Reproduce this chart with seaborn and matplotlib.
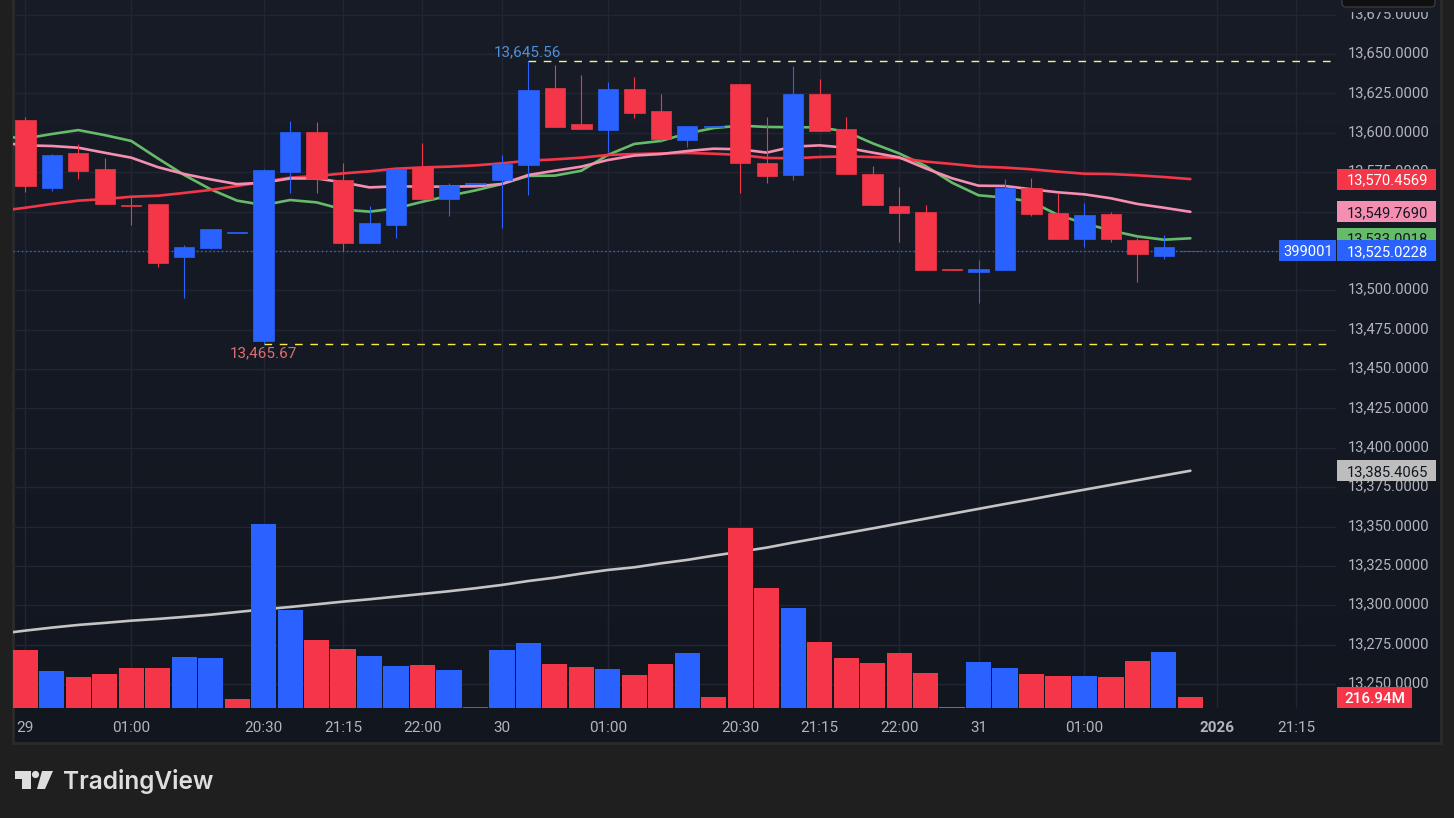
import pandas as pd
import matplotlib
matplotlib.use("Agg")
import matplotlib.pyplot as plt
import numpy as np
import seaborn as sns
from matplotlib.patches import Rectangle, Polygon, Circle, FancyBboxPatch
from matplotlib.transforms import IdentityTransform, ScaledTranslation, blended_transform_factory

# candles
opens = [13608.1, 13564.9, 13587.1, 13577.0, 13554.2, 13554.8, 13521.1, 13526.8, 13536.6, 13467.8,
         13575.1, 13600.5, 13570.0, 13530.0, 13541.4, 13578.2, 13557.9, 13567.7, 13570.0, 13579.5,
         13628.4, 13605.6, 13601.8, 13627.8, 13613.8, 13595.4, 13603.7, 13631.0, 13580.8, 13573.2,
         13624.6, 13602.4, 13573.8, 13553.5, 13549.7, 13513.5, 13511.6, 13512.9, 13564.9, 13549.0,
         13532.5, 13548.4, 13531.9, 13521.8, 13524.9]
highs = [13610.0, 13586.5, 13592.9, 13584.0, 13559.2, 13554.8, 13528.7, 13538.9, 13537.0, 13577.0,
         13607.4, 13606.8, 13580.8, 13553.5, 13577.6, 13593.5, 13568.1, 13568.1, 13585.9, 13645.56,
         13643.0, 13636.7, 13632.2, 13635.4, 13624.6, 13604.3, 13604.1, 13631.0, 13610.0, 13642.4,
         13634.1, 13610.0, 13578.9, 13565.6, 13554.1, 13513.5, 13519.2, 13570.4, 13571.2, 13561.5,
         13555.4, 13549.7, 13533.2, 13535.1, 13525.1]
lows = [13562.4, 13563.0, 13570.6, 13554.8, 13541.4, 13514.8, 13495.1, 13526.2, 13536.6, 13465.67,
        13561.8, 13561.8, 13524.9, 13530.0, 13533.2, 13557.9, 13547.1, 13567.7, 13539.5, 13560.5,
        13603.7, 13602.4, 13587.8, 13609.4, 13594.1, 13591.0, 13603.7, 13561.8, 13568.1, 13570.0,
        13601.1, 13573.8, 13554.1, 13530.6, 13512.9, 13513.1, 13492.1, 13512.9, 13547.2, 13532.5,
        13527.5, 13530.6, 13505.2, 13519.8, 13524.9]
closes = [13566.2, 13585.9, 13575.7, 13554.8, 13553.6, 13517.3, 13527.4, 13538.9, 13537.0, 13576.3,
          13600.5, 13570.6, 13530.0, 13542.7, 13577.0, 13557.9, 13566.8, 13568.1, 13580.2, 13627.2,
          13603.7, 13602.4, 13627.8, 13612.6, 13596.0, 13604.3, 13604.1, 13580.8, 13572.6, 13624.6,
          13601.1, 13573.8, 13554.1, 13549.1, 13512.9, 13513.1, 13513.5, 13564.9, 13548.4, 13532.5,
          13547.8, 13532.5, 13523.0, 13527.5, 13525.02]

# volume in millions and which way each bar is coloured
volumes = [1143, 729, 611, 670, 788, 788, 1005, 986, 177, 3627, 1932, 1340, 1163, 1025, 828, 848, 749, 20,
           1143, 1281, 867, 808, 769, 650, 867, 1084, 217, 3548, 2365, 1971, 1301, 986, 887, 1084, 690, 20,
           907, 788, 670, 631, 631, 611, 926, 1104, 216.94]
vol_sides = ["down", "up", "down", "down", "down", "down", "up", "up", "down", "up", "up", "down", "down",
             "up", "up", "down", "up", "up", "up", "up", "down", "down", "up", "down", "down", "up", "down",
             "down", "down", "up", "down", "down", "down", "down", "down", "down", "up", "up", "down", "down",
             "up", "down", "down", "up", "down"]

# moving averages, first value is the bar left of the visible range
ma_green = [13597.9, 13596.4, 13599.2, 13601.7, 13598.5, 13594.8, 13583.8, 13573.2, 13564.1, 13556.9,
            13554.1, 13557.3, 13555.8, 13551.3, 13549.9, 13552.0, 13556.2, 13560.0, 13563.4, 13567.5,
            13572.6, 13572.8, 13575.9, 13585.9, 13592.9, 13594.8, 13599.6, 13603.0, 13604.5, 13603.7,
            13603.5, 13603.5, 13600.7, 13593.3, 13586.9, 13578.9, 13568.3, 13560.3, 13558.8, 13556.2,
            13547.8, 13542.5, 13537.9, 13534.2, 13532.1, 13533.0]
ma_pink = [13593.9, 13592.0, 13591.6, 13590.5, 13587.3, 13584.2, 13578.2, 13573.8, 13570.4, 13567.4,
           13568.3, 13571.0, 13571.0, 13568.5, 13565.3, 13566.0, 13565.8, 13565.8, 13566.0, 13567.5,
           13573.2, 13575.9, 13578.5, 13582.7, 13585.5, 13586.5, 13588.4, 13589.9, 13589.5, 13587.4,
           13591.2, 13592.0, 13590.5, 13587.4, 13584.4, 13577.4, 13571.1, 13566.4, 13566.2, 13564.1,
           13562.2, 13560.9, 13558.4, 13554.8, 13552.4, 13549.8]
ma_red = [13550.3, 13552.4, 13554.8, 13556.9, 13557.9, 13559.4, 13560.0, 13561.8, 13563.7, 13566.2,
          13568.9, 13571.5, 13572.5, 13574.2, 13575.5, 13577.2, 13578.0, 13578.5, 13579.3, 13580.6,
          13582.3, 13583.1, 13584.2, 13585.9, 13586.5, 13586.9, 13587.2, 13586.7, 13585.9, 13584.0,
          13583.8, 13584.6, 13585.0, 13584.6, 13584.0, 13581.7, 13580.2, 13578.5, 13577.9, 13576.8,
          13575.3, 13574.0, 13573.8, 13573.0, 13571.9, 13570.6]
ma_grey = [13281.8, 13283.9, 13285.8, 13287.5, 13288.8, 13290.2, 13291.3, 13292.6, 13294.0, 13295.7,
           13297.4, 13298.9, 13300.6, 13302.3, 13303.8, 13305.5, 13307.2, 13308.9, 13310.8, 13312.9,
           13315.4, 13317.5, 13320.1, 13322.4, 13324.1, 13326.6, 13328.8, 13331.5, 13334.0, 13336.6,
           13339.8, 13342.8, 13345.8, 13348.8, 13351.9, 13355.0, 13358.1, 13361.2, 13364.3, 13367.3,
           13370.4, 13373.4, 13376.4, 13379.4, 13382.4, 13385.4]

time_tick_pos = [0, 4, 9, 12, 15, 18, 22, 27, 30, 33, 36, 40, 45, 48]
time_tick_labels = ["29", "01:00", "20:30", "21:15", "22:00", "30", "01:00", "20:30", "21:15", "22:00",
                    "31", "01:00", "2026", "21:15"]
price_ticks = list(range(13250, 13700, 25))

BLUE = "#2962ff"
RED = "#f43648"
GREEN = "#66bb6a"
PINK = "#f48fb1"
GREY = "#c4c4c4"
TXT = "#b2b5be"
W, H = 1454, 818

sns.set_theme(style="dark")
plt.rcParams["font.family"] = ["Roboto", "DejaVu Sans"]

fig = plt.figure(figsize=(W / 100, H / 100), dpi=100, facecolor="#1f1f1f")


def px_axes(x0, y0, x1, y1, **kw):
    return fig.add_axes([x0 / W, 1 - y1 / H, (x1 - x0) / W, (y1 - y0) / H], **kw)


# pane background, a soft vertical gradient
bg = px_axes(13, 0, 1441, 743)
grad = np.linspace(0, 1, 256).reshape(-1, 1)
cmap = matplotlib.colors.LinearSegmentedColormap.from_list("pane", ["#181c27", "#12161f"])
bg.imshow(grad, aspect="auto", cmap=cmap)
bg.set_xticks([])
bg.set_yticks([])
for name, sp in bg.spines.items():
    sp.set_visible(name != "top")
    sp.set_color("#2b2b2b")
    sp.set_linewidth(2)

ax = px_axes(13, 0, 1336, 708, facecolor="none")
ax.set_zorder(2)
for sp in ax.spines.values():
    sp.set_visible(False)

idx = list(range(len(opens)))
ma_idx = list(range(-1, len(opens)))
ma_df = pd.DataFrame({"idx": ma_idx, "green": ma_green, "red": ma_red, "pink": ma_pink, "grey": ma_grey})

for col, color in [("grey", GREY), ("green", GREEN), ("red", RED), ("pink", PINK)]:
    sns.lineplot(data=ma_df, x="idx", y=col, color=color, linewidth=1.9, errorbar=None, ax=ax, zorder=2)

# last price line
ax.axhline(closes[-1], color="#3f63d8", lw=1, ls=(0, (1, 2)), zorder=1.8)

candle_colors = [BLUE if c >= o else RED for o, c in zip(opens, closes)]
ax.vlines(idx, lows, highs, colors=candle_colors, lw=0.8, zorder=3)
bottoms = [min(o, c) for o, c in zip(opens, closes)]
heights = [abs(c - o) for o, c in zip(opens, closes)]
ax.bar(idx, heights, bottom=bottoms, width=0.77, color=candle_colors, edgecolor=candle_colors,
       linewidth=0.5, zorder=3)

# session high and low
high_i = highs.index(max(highs))
low_i = lows.index(min(lows))
ax.hlines(max(highs), high_i, 49.35, color="#f5ee9a", lw=1, ls=(0, (5.5, 5.5)), zorder=2.5)
ax.hlines(min(lows), low_i, 49.35, color="#ffeb3b", lw=1, ls=(0, (5.5, 5.5)), zorder=2.5)
ax.text(high_i - 0.02, max(highs) + 0.8, f"{max(highs):,.2f}", color="#4f8fd6", fontsize=11, ha="center", va="bottom", zorder=4)
ax.text(low_i - 0.02, min(lows) - 1.4, f"{min(lows):,.2f}", color="#e06c72", fontsize=11, ha="center", va="top", zorder=4)

ax.set_ylim(13234.76, 13684.3)
ax.set_xlabel("")
ax.set_ylabel("")

# volume on its own scale, bars sit on top of the grey average
ax_vol = ax.twinx()
ax_vol.set_zorder(3)
vol_df = pd.DataFrame({"idx": idx, "vol": volumes, "side": vol_sides})
sns.barplot(data=vol_df, x="idx", y="vol", hue="side", palette={"up": BLUE, "down": RED}, native_scale=True,
            dodge=False, width=0.95, saturation=1, linewidth=0, legend=False, ax=ax_vol)
ax_vol.set_ylim(0, 13962)
ax_vol.set_yticks([])
ax_vol.set_xlabel("")
ax_vol.set_ylabel("")
ax_vol.patch.set_visible(False)
for sp in ax_vol.spines.values():
    sp.set_visible(False)

# twinx puts the price ticks back on the left
ax.yaxis.tick_right()
ax.set_yticks(price_ticks)
ax.set_yticklabels([f"{p:,.4f}" for p in price_ticks], color=TXT, fontsize=10.6)
ax.tick_params(axis="y", length=0, pad=8.6)
nudge = ScaledTranslation(0, 2 / 100, fig.dpi_scale_trans)
for lab in ax.get_yticklabels():
    lab.set_transform(lab.get_transform() + nudge)

ax.set_xlim(-0.465, 49.5)
ax.set_xticks(time_tick_pos)
ax.set_xticklabels(time_tick_labels, color=TXT, fontsize=11)
ax.tick_params(axis="x", length=0, pad=9.5)
ax.get_xticklabels()[time_tick_labels.index("2026")].set_fontweight("bold")
ax_vol.tick_params(axis="x", length=0, labelbottom=False)
ax.grid(True, color="#222632", lw=1)
ax_vol.grid(False)
ax.set_axisbelow(True)

# price badges on the axis: x in pixels, y on the price scale
badge_tr = blended_transform_factory(IdentityTransform(), ax.transData)
vol_tr = blended_transform_factory(IdentityTransform(), ax_vol.transData)


def badge(price, label, face, color, x0=1337, x1=1436, z=10):
    ax_vol.add_patch(Rectangle((x0, price - 6.67), x1 - x0, 13.34, transform=badge_tr, facecolor=face,
                               edgecolor="none", clip_on=False, zorder=z))
    ax_vol.text((x0 + x1) / 2 + 1, price, label, transform=badge_tr, color=color, fontsize=10.6,
                ha="center", va="center_baseline", clip_on=False, zorder=z)


badge(13385.4065, "13,385.4065", "#bdbdbd", "#131722")
badge(13570.4569, "13,570.4569", RED, "white", z=11)
badge(13549.7690, "13,549.7690", PINK, "#131722", z=11)
badge(13533.0018, "13,533.0018", GREEN, "#131722", z=11)
badge(13525.0228, "13,525.0228", BLUE, "white", z=12)
badge(13525.0228, "399001", BLUE, "white", x0=1279, x1=1336, z=12)

ax_vol.add_patch(Rectangle((1337, 0), 75, volumes[-1] * 1.9, transform=vol_tr, facecolor=RED, edgecolor="none",
                           clip_on=False, zorder=11))
ax_vol.text(1374.5, volumes[-1] * 0.95, "216.94M", transform=vol_tr, color="white", fontsize=11, fontweight="medium",
            ha="center", va="center_baseline", clip_on=False, zorder=11)


def fy(y):
    return H - y


# dark box clipped by the top edge, its shadow hides the top of the first price label
fig.add_artist(Rectangle((1341, fy(12)), 95, 12, transform=IdentityTransform(), facecolor="#181c27", edgecolor="none", zorder=4))
fig.add_artist(FancyBboxPatch((1342, fy(7)), 93, 20, boxstyle="round,pad=0,rounding_size=4", transform=IdentityTransform(),
                              facecolor="#0f0f0f", edgecolor="#3a3a3a", lw=1, zorder=5))

# logo
for pts in ([(15, 771), (31, 771), (31, 789), (22, 789), (22, 779), (15, 779)],
            [(42, 771), (53, 771), (45, 789), (37, 789)]):
    fig.add_artist(Polygon([(x, fy(y)) for x, y in pts], closed=True, transform=IdentityTransform(), facecolor="#dedede",
                           edgecolor="none", zorder=5))
fig.add_artist(Circle((35.5, fy(774.5)), 3.6, transform=IdentityTransform(), facecolor="#dedede", edgecolor="none", zorder=5))
fig.text(62.5 / W, 1 - 789 / H, "TradingView", color="#dedede", fontsize=17.6, fontweight="semibold", family="Inter",
         ha="left", va="baseline")

fig.savefig("out.png", dpi=100, facecolor=fig.get_facecolor())
